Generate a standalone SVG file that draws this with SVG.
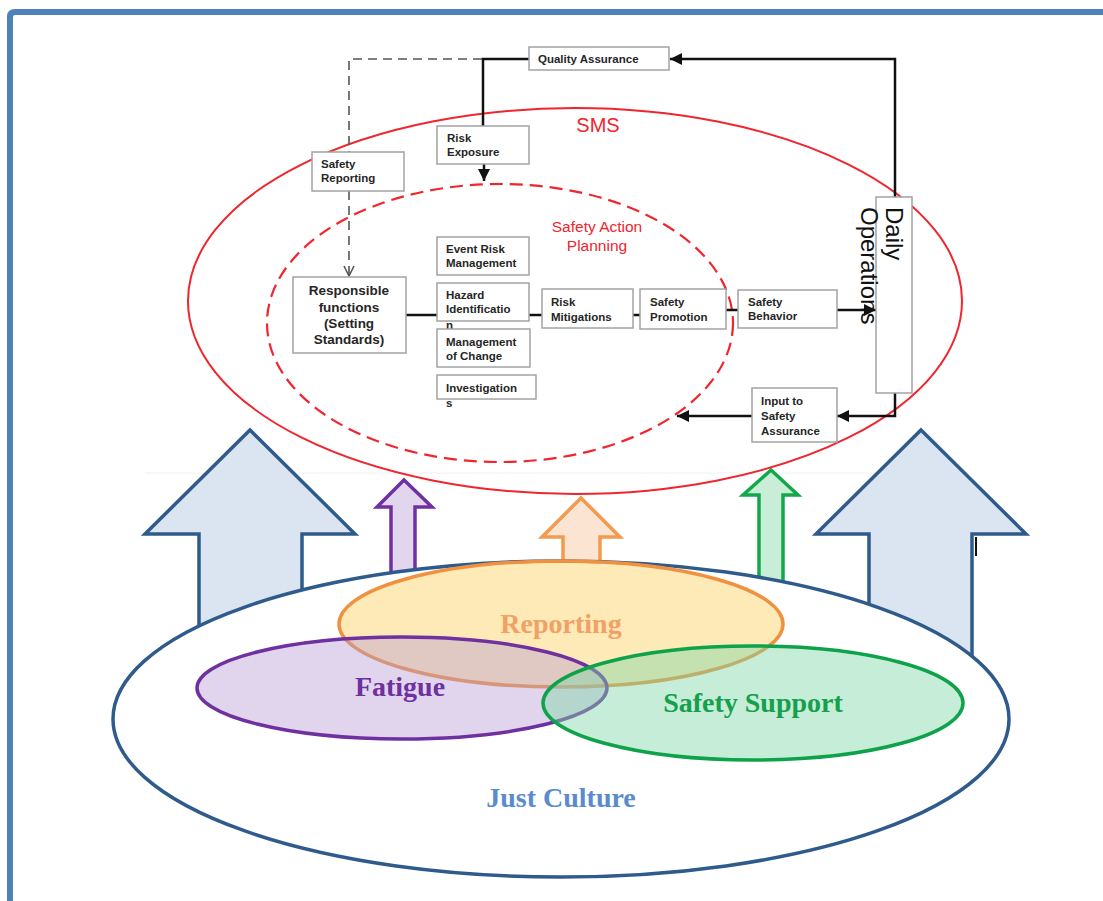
<svg xmlns="http://www.w3.org/2000/svg" width="1103" height="901" viewBox="0 0 1103 901">
  <style>
    .box { fill: #ffffff; stroke: #a3a3a3; stroke-width: 1.5; }
    .bt { font-family: "Liberation Sans", Arial, sans-serif; font-size: 11.5px; font-weight: bold; fill: #262626; }
    .rt { font-family: "Liberation Sans", Arial, sans-serif; font-size: 13.5px; font-weight: bold; fill: #262626; text-anchor: middle; }
    .red { font-family: "Liberation Sans", Arial, sans-serif; fill: #f0252d; text-anchor: middle; }
    .ops { font-family: "Liberation Sans", Arial, sans-serif; font-size: 24px; fill: #111111; }
    .lbl { font-family: "Liberation Serif", "Times New Roman", serif; font-size: 28px; font-weight: bold; text-anchor: middle; }
    .solid { fill: none; stroke: #111111; stroke-width: 2.5; }
    .dash { fill: none; stroke: #555555; stroke-width: 1.6; stroke-dasharray: 9 6; }
    .big { fill: #dbe4f1; stroke: #2f5b8c; stroke-width: 3.5; stroke-linejoin: miter; }
  </style>
  <defs>
    <marker id="tri" markerUnits="userSpaceOnUse" markerWidth="14" markerHeight="12" refX="12" refY="6" orient="auto">
      <path d="M0,0 L12,6 L0,12 Z" fill="#111111"/>
    </marker>
    <marker id="vee" markerUnits="userSpaceOnUse" markerWidth="14" markerHeight="12" refX="11" refY="6" orient="auto">
      <path d="M1,1 L11,6 L1,11" fill="none" stroke="#555555" stroke-width="1.6"/>
    </marker>
  </defs>

  <rect width="1103" height="901" fill="#ffffff"/>

  <!-- frame -->
  <path d="M10,901 V17 Q10,12 15,12 H1103" fill="none" stroke="#4f81bd" stroke-width="6"/>

  <!-- faint rule behind the upward arrows -->
  <line x1="145" y1="473" x2="880" y2="473" stroke="#f0f0f0" stroke-width="1"/>

  <!-- upward arrows (drawn before the base ellipse so it hides their stems) -->
  <g id="arrow-left">
    <polygon class="big" points="250,430 355,534 302,534 302,660 199,660 199,534 145,534"/>
  </g>
  <g id="arrow-right">
    <polygon class="big" points="921,430 1026,534 972,534 972,680 869,680 869,534 816,534"/>
    <line x1="976" y1="537" x2="976" y2="556" stroke="#111111" stroke-width="2"/>
  </g>
  <g id="arrow-fatigue">
    <polygon points="404,480 432,507 415,507 415,600 391,600 391,507 377,507" fill="#e2d6ee" stroke="#7030a0" stroke-width="3.5"/>
  </g>
  <g id="arrow-reporting">
    <polygon points="581,498 620,537 600,537 600,600 563,600 563,537 542,537" fill="#fbe4d2" stroke="#f39a4f" stroke-width="3.5"/>
  </g>
  <g id="arrow-support">
    <polygon points="771,470 798,495 783,495 783,600 759,600 759,495 743,495" fill="#c9eed8" stroke="#12a84a" stroke-width="3.5"/>
  </g>

  <!-- culture ellipses -->
  <g id="just-culture">
    <ellipse cx="561" cy="719" rx="448" ry="158" fill="#ffffff" stroke="#2f5b8c" stroke-width="3.5"/>
  </g>
  <g id="reporting">
    <ellipse cx="561" cy="624" rx="222" ry="63" fill="#fcd670" fill-opacity="0.5" stroke="#f0913f" stroke-width="3.5"/>
  </g>
  <g id="fatigue">
    <ellipse cx="402" cy="688" rx="205" ry="51" fill="#b49ad2" fill-opacity="0.42" stroke="#7030a0" stroke-width="3.5"/>
  </g>
  <g id="safety-support">
    <ellipse cx="753" cy="703" rx="210" ry="57" fill="#7fd8a6" fill-opacity="0.45" stroke="#0ea34b" stroke-width="3.5"/>
  </g>
  <text class="lbl" x="561" y="633" fill="#f2a064">Reporting</text>
  <text class="lbl" x="400" y="696" fill="#7030a0">Fatigue</text>
  <text class="lbl" x="753" y="712" fill="#14a04c">Safety Support</text>
  <text class="lbl" x="561" y="807" fill="#5a8bcf">Just Culture</text>

  <!-- SMS regions -->
  <g id="sms">
    <ellipse cx="575" cy="301" rx="387" ry="193" fill="none" stroke="#f0252d" stroke-width="2"/>
    <text class="red" x="598" y="132" font-size="20">SMS</text>
  </g>
  <g id="safety-action-planning">
    <ellipse cx="500" cy="323" rx="233" ry="139" fill="none" stroke="#f0252d" stroke-width="2.2" stroke-dasharray="13 7"/>
    <text class="red" x="597" y="232" font-size="15.5">Safety Action</text>
    <text class="red" x="597" y="251" font-size="15.5">Planning</text>
  </g>

  <!-- connectors -->
  <g id="connectors">
    <path class="dash" d="M482,59 H349 V152"/>
    <path class="dash" d="M349,191 V276" marker-end="url(#vee)"/>
    <path class="solid" d="M529,59 H483 V126" stroke-width="3"/>
    <path class="solid" d="M484,164 V181" marker-end="url(#tri)"/>
    <path class="solid" d="M895,197 V59 H670" stroke-width="3" marker-end="url(#tri)"/>
    <path class="solid" d="M406,315 H437"/>
    <path class="solid" d="M529,315 H542"/>
    <path class="solid" d="M633,315 H640"/>
    <path class="solid" d="M726,310 H738"/>
    <path class="solid" d="M837,310 H876" stroke-width="3.5" marker-end="url(#tri)"/>
    <path class="solid" d="M895,393 V416 H837" marker-end="url(#tri)"/>
    <path class="solid" d="M752,416 H677" marker-end="url(#tri)"/>
  </g>

  <!-- process boxes -->
  <g id="quality-assurance">
    <rect class="box" x="529" y="47" width="140" height="23"/>
    <text class="bt" x="538" y="63">Quality Assurance</text>
  </g>
  <g id="risk-exposure">
    <rect class="box" x="437" y="126" width="92" height="38"/>
    <text class="bt" x="447" y="142">Risk</text>
    <text class="bt" x="447" y="156">Exposure</text>
  </g>
  <g id="safety-reporting">
    <rect class="box" x="312" y="152" width="92" height="39"/>
    <text class="bt" x="321" y="168">Safety</text>
    <text class="bt" x="321" y="182">Reporting</text>
  </g>
  <g id="responsible-functions">
    <rect class="box" x="293" y="277" width="113" height="76"/>
    <text class="rt" x="349" y="295">Responsible</text>
    <text class="rt" x="349" y="312">functions</text>
    <text class="rt" x="349" y="328">(Setting</text>
    <text class="rt" x="349" y="344">Standards)</text>
  </g>
  <g id="event-risk-management">
    <rect class="box" x="437" y="237" width="92" height="38"/>
    <text class="bt" x="446" y="253">Event Risk</text>
    <text class="bt" x="446" y="267">Management</text>
  </g>
  <g id="hazard-identification">
    <rect class="box" x="437" y="283" width="92" height="38"/>
    <text class="bt" x="446" y="299">Hazard</text>
    <text class="bt" x="446" y="313">Identificatio</text>
    <text class="bt" x="446" y="329">n</text>
  </g>
  <g id="management-of-change">
    <rect class="box" x="437" y="329" width="93" height="38"/>
    <text class="bt" x="446" y="346">Management</text>
    <text class="bt" x="446" y="360">of Change</text>
  </g>
  <g id="investigations">
    <rect class="box" x="437" y="375" width="99" height="24"/>
    <text class="bt" x="446" y="392">Investigation</text>
    <text class="bt" x="446" y="407">s</text>
  </g>
  <g id="risk-mitigations">
    <rect class="box" x="542" y="289" width="91" height="39"/>
    <text class="bt" x="551" y="306">Risk</text>
    <text class="bt" x="551" y="321">Mitigations</text>
  </g>
  <g id="safety-promotion">
    <rect class="box" x="640" y="289" width="86" height="40"/>
    <text class="bt" x="650" y="306">Safety</text>
    <text class="bt" x="650" y="321">Promotion</text>
  </g>
  <g id="safety-behavior">
    <rect class="box" x="738" y="290" width="99" height="38"/>
    <text class="bt" x="748" y="306">Safety</text>
    <text class="bt" x="748" y="320">Behavior</text>
  </g>
  <g id="input-to-safety-assurance">
    <rect class="box" x="752" y="388" width="85" height="54"/>
    <text class="bt" x="761" y="405">Input to</text>
    <text class="bt" x="761" y="420">Safety</text>
    <text class="bt" x="761" y="435">Assurance</text>
  </g>
  <g id="daily-operations">
    <rect class="box" x="876" y="197" width="36" height="196"/>
    <text class="ops" transform="translate(886,207) rotate(90)">Daily</text>
    <text class="ops" transform="translate(861,207) rotate(90)">Operations</text>
  </g>
</svg>
